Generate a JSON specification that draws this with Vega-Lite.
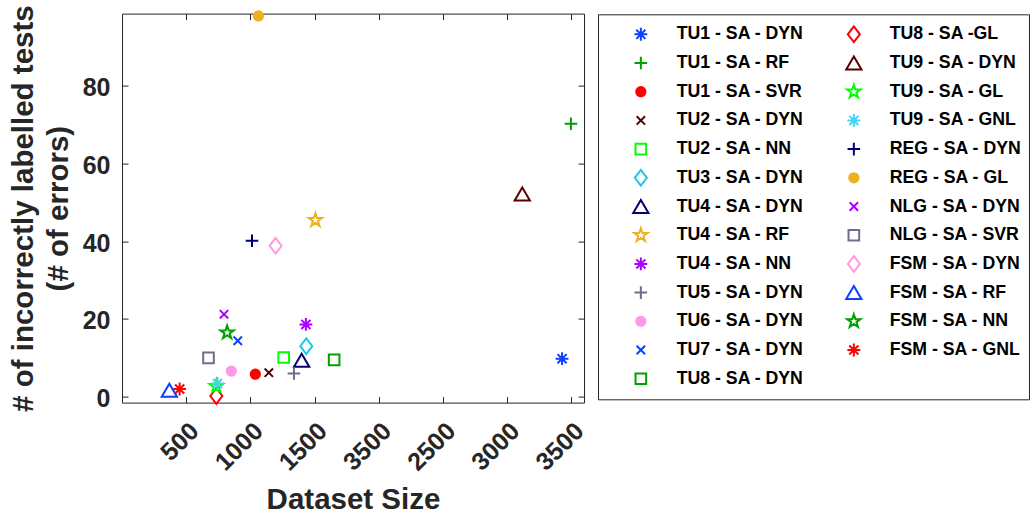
{
  "$schema": "https://vega.github.io/schema/vega-lite/v6.json",
  "width": 462,
  "height": 389,
  "autosize": {"type": "none"},
  "padding": {"left": 122, "top": 13.6, "right": 450, "bottom": 115.4},
  "background": "white",
  "config": {
    "font": "Liberation Sans",
    "view": {"stroke": "#262626", "strokeWidth": 1},
    "legend": {
      "title": null, "orient": "none", "legendX": 476, "legendY": 0.7,
      "columns": 2, "columnPadding": 14, "rowPadding": 2.7, "clipHeight": 26,
      "padding": 7, "strokeColor": "#262626", "fillColor": "white",
      "symbolSize": 196, "symbolStrokeWidth": 2, "symbolOffset": 27,
      "labelOffset": 27, "labelFont": "Liberation Sans", "labelFontSize": 17.7,
      "labelFontWeight": "bold", "labelColor": "#000000", "labelLimit": 300
    }
  },
  "data": {
    "values": [
      {"series": "TU1 - SA - DYN", "size": 3429, "errors": 9.8},
      {"series": "TU1 - SA - RF", "size": 3498, "errors": 70.2},
      {"series": "TU1 - SA - SVR", "size": 1039, "errors": 5.8},
      {"series": "TU2 - SA - DYN", "size": 1144, "errors": 6.2},
      {"series": "TU2 - SA - NN", "size": 1260, "errors": 10.1},
      {"series": "TU3 - SA - DYN", "size": 1436, "errors": 13.0},
      {"series": "TU4 - SA - DYN", "size": 1400, "errors": 9.4},
      {"series": "TU4 - SA - RF", "size": 1507, "errors": 45.4},
      {"series": "TU4 - SA - NN", "size": 1433, "errors": 18.6},
      {"series": "TU5 - SA - DYN", "size": 1340, "errors": 6.0},
      {"series": "TU6 - SA - DYN", "size": 852, "errors": 6.6},
      {"series": "TU7 - SA - DYN", "size": 902, "errors": 14.4},
      {"series": "TU8 - SA - DYN", "size": 1653, "errors": 9.5},
      {"series": "TU8 - SA -GL", "size": 735, "errors": 0.2},
      {"series": "TU9 - SA - DYN", "size": 3119, "errors": 52.1},
      {"series": "TU9 - SA - GL", "size": 735, "errors": 2.7},
      {"series": "TU9 - SA - GNL", "size": 744, "errors": 3.4},
      {"series": "REG - SA - DYN", "size": 1013, "errors": 40.1},
      {"series": "REG - SA - GL", "size": 1063, "errors": 97.9},
      {"series": "NLG - SA - DYN", "size": 795, "errors": 21.2},
      {"series": "NLG - SA - SVR", "size": 674, "errors": 10.0},
      {"series": "FSM - SA - DYN", "size": 1197, "errors": 38.8},
      {"series": "FSM - SA - RF", "size": 369, "errors": 1.7},
      {"series": "FSM - SA - NN", "size": 819, "errors": 16.5},
      {"series": "FSM - SA - GNL", "size": 449, "errors": 2.0}
    ]
  },
  "layer": [
    {
      "mark": {"type": "point", "filled": false, "strokeWidth": 2, "size": 196, "opacity": 1},
      "encoding": {
        "x": {
          "field": "size", "type": "quantitative",
          "scale": {"domain": [0, 3600], "nice": false, "zero": false},
          "axis": {
            "orient": "bottom", "values": [500, 1000, 1500, 2000, 2500, 3000, 3500],
            "format": "d",
            "labelExpr": "datum.value == 2000 ? '3500' : datum.label",
            "grid": false, "domain": false, "ticks": true, "tickSize": -6, "tickColor": "#262626",
            "labelAngle": -45, "labelAlign": "right", "labelBaseline": "middle",
            "labelPadding": 30, "labelOffset": 8,
            "labelFont": "Liberation Sans", "labelFontSize": 25, "labelFontWeight": "bold", "labelColor": "#262626",
            "title": "Dataset Size", "titleFont": "Liberation Sans", "titleFontSize": 29.5, "titleFontWeight": "bold", "titleColor": "#262626",
            "titleX": 231, "titleY": 105.5, "titleAlign": "center", "titleBaseline": "alphabetic", "titleAnchor": null
          }
        },
        "y": {
          "field": "errors", "type": "quantitative",
          "scale": {"domain": [-1.5, 98.5], "nice": false, "zero": false},
          "axis": {
            "orient": "left", "values": [0, 20, 40, 60, 80],
            "grid": false, "domain": false, "ticks": true, "tickSize": -6, "tickColor": "#262626",
            "labelPadding": 18, "labelOffset": 2,
            "labelFont": "Liberation Sans", "labelFontSize": 25, "labelFontWeight": "bold", "labelColor": "#262626",
            "title": ["# of incorrectly labelled tests", "(# of errors)"],
            "titleFont": "Liberation Sans", "titleFontSize": 29.5, "titleFontWeight": "bold", "titleColor": "#262626",
            "titleAngle": -90, "titleX": -90, "titleY": 194.5, "titleAlign": "center", "titleBaseline": "alphabetic",
            "titleLineHeight": 35, "titleAnchor": null
          }
        },
        "shape": {
          "field": "series", "type": "nominal",
          "scale": {
            "domain": ["TU1 - SA - DYN", "TU1 - SA - RF", "TU1 - SA - SVR", "TU2 - SA - DYN", "TU2 - SA - NN", "TU3 - SA - DYN", "TU4 - SA - DYN", "TU4 - SA - RF", "TU4 - SA - NN", "TU5 - SA - DYN", "TU6 - SA - DYN", "TU7 - SA - DYN", "TU8 - SA - DYN", "TU8 - SA -GL", "TU9 - SA - DYN", "TU9 - SA - GL", "TU9 - SA - GNL", "REG - SA - DYN", "REG - SA - GL", "NLG - SA - DYN", "NLG - SA - SVR", "FSM - SA - DYN", "FSM - SA - RF", "FSM - SA - NN", "FSM - SA - GNL"],
            "range": [
              "M-0.92,0L0.92,0M0,-0.92L0,0.92M-0.65,-0.65L0.65,0.65M-0.65,0.65L0.65,-0.65",
              "M-0.9,0L0.9,0M0,-0.9L0,0.9",
              "M0.66,0A0.66,0.66,0,1,1,-0.66,0A0.66,0.66,0,1,1,0.66,0Z",
              "M-0.6,-0.6L0.6,0.6M-0.6,0.6L0.6,-0.6",
              "M-0.76,-0.76L0.76,-0.76L0.76,0.76L-0.76,0.76Z",
              "M0,-1.12L0.86,0L0,1.12L-0.86,0Z",
              "M0,-0.93L1.09,0.93L-1.09,0.93Z",
              "M0,-1.0L0.225,-0.309L0.951,-0.309L0.363,0.118L0.588,0.809L0,0.382L-0.588,0.809L-0.363,0.118L-0.951,-0.309L-0.225,-0.309Z",
              "M-0.92,0L0.92,0M0,-0.92L0,0.92M-0.65,-0.65L0.65,0.65M-0.65,0.65L0.65,-0.65",
              "M-0.9,0L0.9,0M0,-0.9L0,0.9",
              "M0.66,0A0.66,0.66,0,1,1,-0.66,0A0.66,0.66,0,1,1,0.66,0Z",
              "M-0.6,-0.6L0.6,0.6M-0.6,0.6L0.6,-0.6",
              "M-0.76,-0.76L0.76,-0.76L0.76,0.76L-0.76,0.76Z",
              "M0,-1.12L0.86,0L0,1.12L-0.86,0Z",
              "M0,-0.93L1.09,0.93L-1.09,0.93Z",
              "M0,-1.0L0.225,-0.309L0.951,-0.309L0.363,0.118L0.588,0.809L0,0.382L-0.588,0.809L-0.363,0.118L-0.951,-0.309L-0.225,-0.309Z",
              "M-0.92,0L0.92,0M0,-0.92L0,0.92M-0.65,-0.65L0.65,0.65M-0.65,0.65L0.65,-0.65",
              "M-0.9,0L0.9,0M0,-0.9L0,0.9",
              "M0.66,0A0.66,0.66,0,1,1,-0.66,0A0.66,0.66,0,1,1,0.66,0Z",
              "M-0.6,-0.6L0.6,0.6M-0.6,0.6L0.6,-0.6",
              "M-0.76,-0.76L0.76,-0.76L0.76,0.76L-0.76,0.76Z",
              "M0,-1.12L0.86,0L0,1.12L-0.86,0Z",
              "M0,-0.93L1.09,0.93L-1.09,0.93Z",
              "M0,-1.0L0.225,-0.309L0.951,-0.309L0.363,0.118L0.588,0.809L0,0.382L-0.588,0.809L-0.363,0.118L-0.951,-0.309L-0.225,-0.309Z",
              "M-0.92,0L0.92,0M0,-0.92L0,0.92M-0.65,-0.65L0.65,0.65M-0.65,0.65L0.65,-0.65"
            ]
          }
        },
        "stroke": {
          "field": "series", "type": "nominal",
          "scale": {
            "domain": ["TU1 - SA - DYN", "TU1 - SA - RF", "TU1 - SA - SVR", "TU2 - SA - DYN", "TU2 - SA - NN", "TU3 - SA - DYN", "TU4 - SA - DYN", "TU4 - SA - RF", "TU4 - SA - NN", "TU5 - SA - DYN", "TU6 - SA - DYN", "TU7 - SA - DYN", "TU8 - SA - DYN", "TU8 - SA -GL", "TU9 - SA - DYN", "TU9 - SA - GL", "TU9 - SA - GNL", "REG - SA - DYN", "REG - SA - GL", "NLG - SA - DYN", "NLG - SA - SVR", "FSM - SA - DYN", "FSM - SA - RF", "FSM - SA - NN", "FSM - SA - GNL"],
            "range": ["#0F3FFF", "#00A000", "#FF0000", "#5A0000", "#00FF00", "#1EC8E8", "#000070", "#EDB120", "#AA00FF", "#6E6E8C", "#FF99E6", "#0F3FFF", "#00A000", "#FF0000", "#5A0000", "#00FF00", "#44D4F4", "#000070", "#EDB120", "#AA00FF", "#6E6E8C", "#FF99E6", "#0F3FFF", "#00A000", "#FF0000"]
          }
        },
        "fill": {
          "field": "series", "type": "nominal",
          "scale": {
            "domain": ["TU1 - SA - DYN", "TU1 - SA - RF", "TU1 - SA - SVR", "TU2 - SA - DYN", "TU2 - SA - NN", "TU3 - SA - DYN", "TU4 - SA - DYN", "TU4 - SA - RF", "TU4 - SA - NN", "TU5 - SA - DYN", "TU6 - SA - DYN", "TU7 - SA - DYN", "TU8 - SA - DYN", "TU8 - SA -GL", "TU9 - SA - DYN", "TU9 - SA - GL", "TU9 - SA - GNL", "REG - SA - DYN", "REG - SA - GL", "NLG - SA - DYN", "NLG - SA - SVR", "FSM - SA - DYN", "FSM - SA - RF", "FSM - SA - NN", "FSM - SA - GNL"],
            "range": ["transparent", "transparent", "#FF0000", "transparent", "transparent", "transparent", "transparent", "transparent", "transparent", "transparent", "#FF99E6", "transparent", "transparent", "transparent", "transparent", "transparent", "transparent", "transparent", "#EDB120", "transparent", "transparent", "transparent", "transparent", "transparent", "transparent"]
          }
        }
      }
    },
    {
      "mark": {"type": "point", "opacity": 0},
      "encoding": {
        "x": {
          "field": "size", "type": "quantitative",
          "axis": {"orient": "top", "values": [500, 1000, 1500, 2000, 2500, 3000, 3500], "labels": false, "domain": false, "grid": false, "ticks": true, "tickSize": -6, "tickColor": "#262626", "title": null}
        },
        "y": {
          "field": "errors", "type": "quantitative",
          "axis": {"orient": "right", "values": [0, 20, 40, 60, 80], "labels": false, "domain": false, "grid": false, "ticks": true, "tickSize": -6, "tickColor": "#262626", "title": null}
        }
      }
    }
  ],
  "resolve": {"axis": {"x": "independent", "y": "independent"}}
}
